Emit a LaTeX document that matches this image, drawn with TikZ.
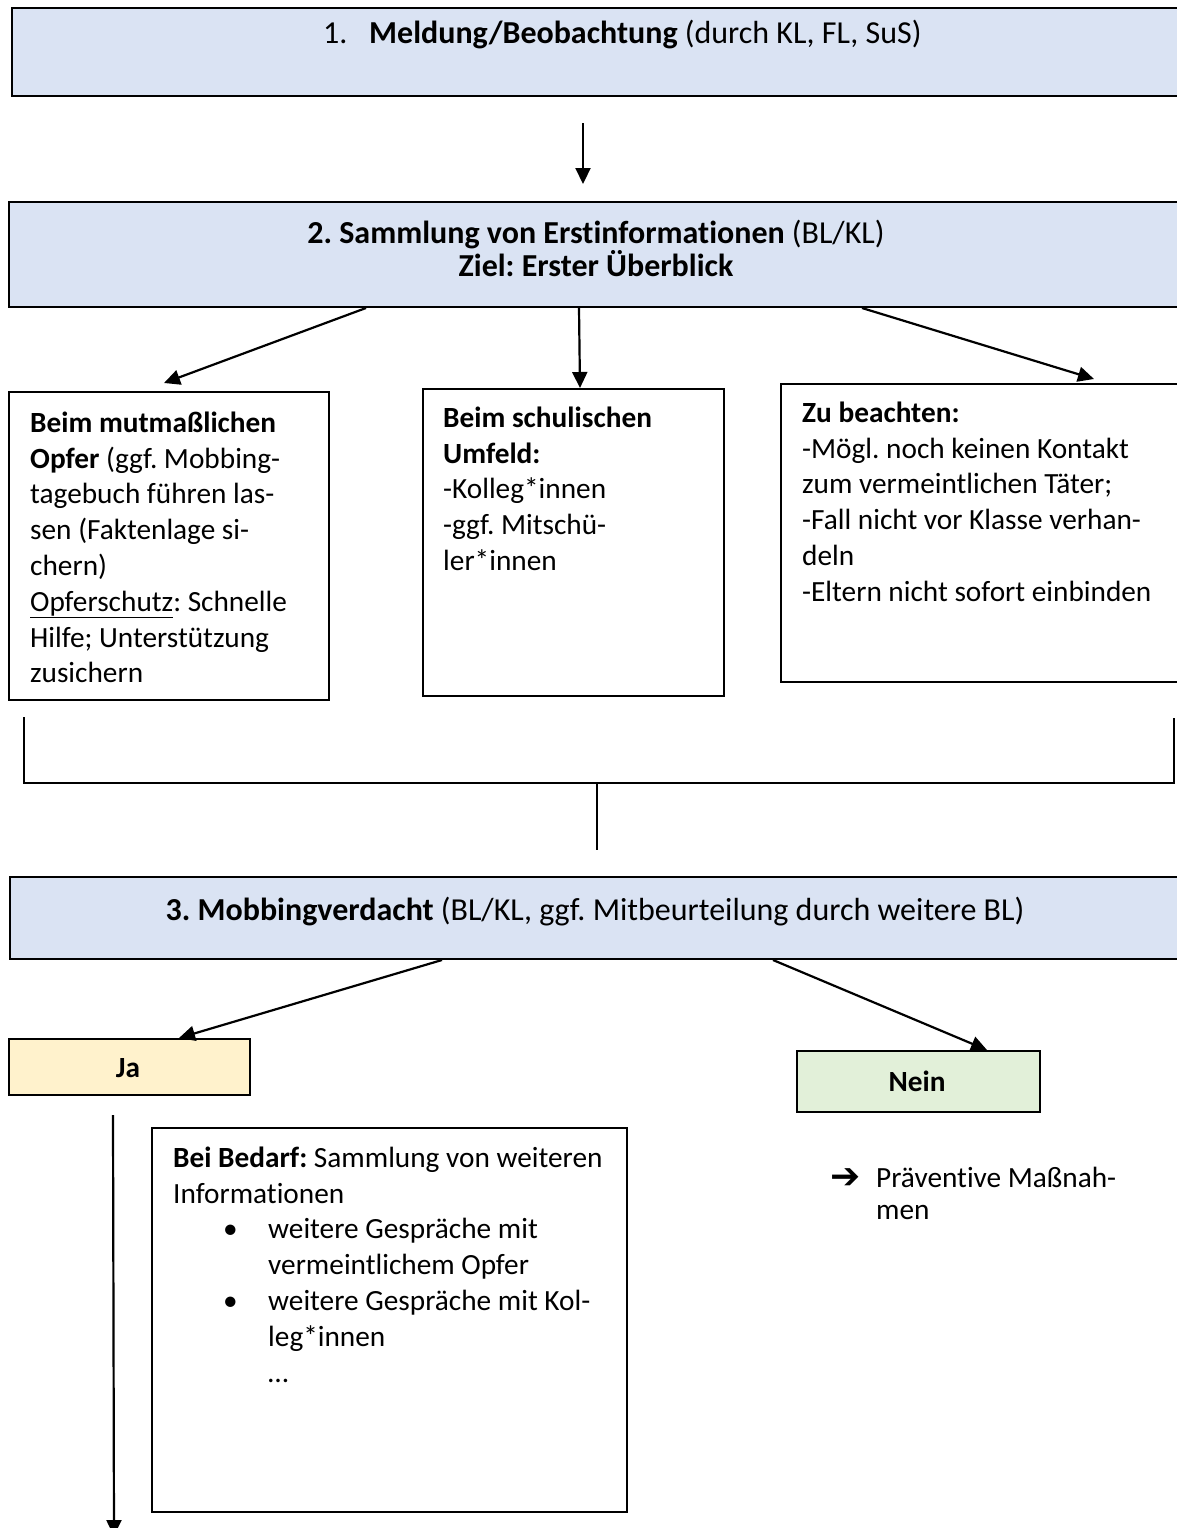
\documentclass[tikz,border=0pt]{standalone}
\usepackage{fontspec}
\setmainfont{Carlito}[Ligatures={NoCommon}]
\newfontfamily\dejavu{DejaVu Sans}
\usetikzlibrary{arrows.meta}
\definecolor{boxblue}{HTML}{DAE3F3}
\definecolor{jayellow}{HTML}{FFF2CC}
\definecolor{neingreen}{HTML}{E2F0D9}
\newcommand{\myfs}{\fontsize{29.3}{35.8}\selectfont\frenchspacing}
\newcommand{\myhfs}{\fontsize{32}{35}\selectfont\frenchspacing}
\begin{document}
\begin{tikzpicture}[x=1pt,y=-1pt,
  boxbase/.style={draw=black, line width=2pt, rectangle, inner sep=0pt, anchor=north west},
  bluebox/.style={boxbase, fill=boxblue},
  whitebox/.style={boxbase, fill=white},
  jabox/.style={boxbase, fill=jayellow},
  neinbox/.style={boxbase, fill=neingreen},
  txt/.style={inner sep=0pt, anchor=north west, align=flush left, font=\myfs},
  ctxt/.style={inner sep=0pt, anchor=base, font=\myfs},
  htxt/.style={inner sep=0pt, anchor=base, font=\myhfs},
  arr/.style={line width=2.2pt, -{Triangle[length=16pt,width=15pt]}},
  thinline/.style={line width=1.4pt}]
\useasboundingbox (0,0) rectangle (1176,1528);

% boxes
\node[bluebox, minimum width=1180pt, minimum height=88pt] (b1) at (11,7) {};
\node[bluebox, minimum width=1183pt, minimum height=105pt] (b2) at (8,201) {};
\node[whitebox, minimum width=320pt, minimum height=308pt] (bL) at (8,391) {};
\node[whitebox, minimum width=301pt, minimum height=307pt] (bM) at (422,388) {};
\node[whitebox, minimum width=410pt, minimum height=298pt] (bR) at (780,383) {};
\node[bluebox, minimum width=1182pt, minimum height=82pt] (b3) at (9,876) {};
\node[jabox, minimum width=241pt, minimum height=56pt] (ja) at (8,1038) {};
\node[neinbox, minimum width=243pt, minimum height=61pt] (nein) at (796,1050) {};
\node[whitebox, minimum width=475pt, minimum height=384pt] (bed) at (151,1127) {};

% texts
\node[inner sep=0pt, anchor=base west, font=\myhfs] (t1) at (323,44)
  {\makebox[46pt][l]{1.}\textbf{Meldung/Beobachtung} (durch KL, FL, SuS)};
\node[htxt] (t2a) at (596,243) {\textbf{2. Sammlung von Erstinformationen} (BL/KL)};
\node[htxt] (t2b) at (596,276) {\textbf{Ziel: Erster Überblick}};

\node[txt, text width=400pt] (tL) at (30,407) {\strut\textbf{Beim mutmaßlichen}\\
\textbf{Opfer} (ggf. Mobbing-\\
tagebuch führen las-\\
sen (Faktenlage si-\\
chern)\\
\underline{Opferschutz}: Schnelle\\
Hilfe; Unterstützung\\
zusichern};

\node[txt, text width=400pt] (tM) at (443,402) {\strut\textbf{Beim schulischen}\\
\textbf{Umfeld:}\\
-Kolleg*innen\\
-ggf. Mitschü-\\
ler*innen};

\node[txt, text width=500pt] (tR) at (802,397) {\strut\textbf{Zu beachten:}\\
-Mögl. noch keinen Kontakt\\
zum vermeintlichen Täter;\\
-Fall nicht vor Klasse verhan-\\
deln\\
-Eltern nicht sofort einbinden};

\node[htxt] (t3) at (595,920) {\textbf{3. Mobbingverdacht} (BL/KL, ggf. Mitbeurteilung durch weitere BL)};
\node[ctxt] (tja) at (128,1077) {\textbf{Ja}};
\node[ctxt] (tnein) at (917,1091) {\textbf{Nein}};

\node[txt, text width=600pt] (tbed) at (173,1142) {\strut\textbf{Bei Bedarf:} Sammlung von weiteren\\
Informationen\\
\hspace*{50pt}\makebox[45pt][l]{•}weitere Gespräche mit\\
\hspace*{95pt}vermeintlichem Opfer\\
\hspace*{50pt}\makebox[45pt][l]{•}weitere Gespräche mit Kol-\\
\hspace*{95pt}leg*innen\\
\hspace*{95pt}…};

\node[inner sep=0pt, anchor=base west, font=\myfs] (tprae) at (830,1187)
  {\makebox[46pt][l]{\raisebox{-1pt}{\dejavu\fontsize{36}{36}\selectfont ➔}}Präventive Maßnah-};
\node[inner sep=0pt, anchor=base west, font=\myfs] (tmen) at (876,1219) {men};

% connectors
\coordinate (a1s) at (583,123);
\coordinate (a1e) at (583,184);
\draw[arr] (a1s) -- (a1e);

\coordinate (tipL) at (164,383);
\coordinate (tipR) at (1094,379);
\draw[arr] (b2.south -| 366,0) -- (tipL);
\draw[arr] (b2.south -| 579,0) -- (bM.north -| 580,0);
\draw[arr] (b2.south -| 862,0) -- (tipR);

\coordinate (brL) at (24,717);
\coordinate (brLb) at (24,783);
\coordinate (brRb) at (1174,783);
\coordinate (brR) at (1174,718);
\coordinate (brM) at (597,783);
\coordinate (stemEnd) at (597,850);
\draw[thinline] (brL) -- (brLb) -- (brRb) -- (brR);
\draw[thinline] (brM) -- (stemEnd);

\draw[arr] (b3.south -| 442,0) -- (ja.north -| 179,0);
\draw[arr] (b3.south -| 773,0) -- (nein.north -| 987,0);

\coordinate (downS) at (113,1115);
\coordinate (downE) at (114,1536);
\draw[arr] (downS) -- (downE);
\end{tikzpicture}
\end{document}
